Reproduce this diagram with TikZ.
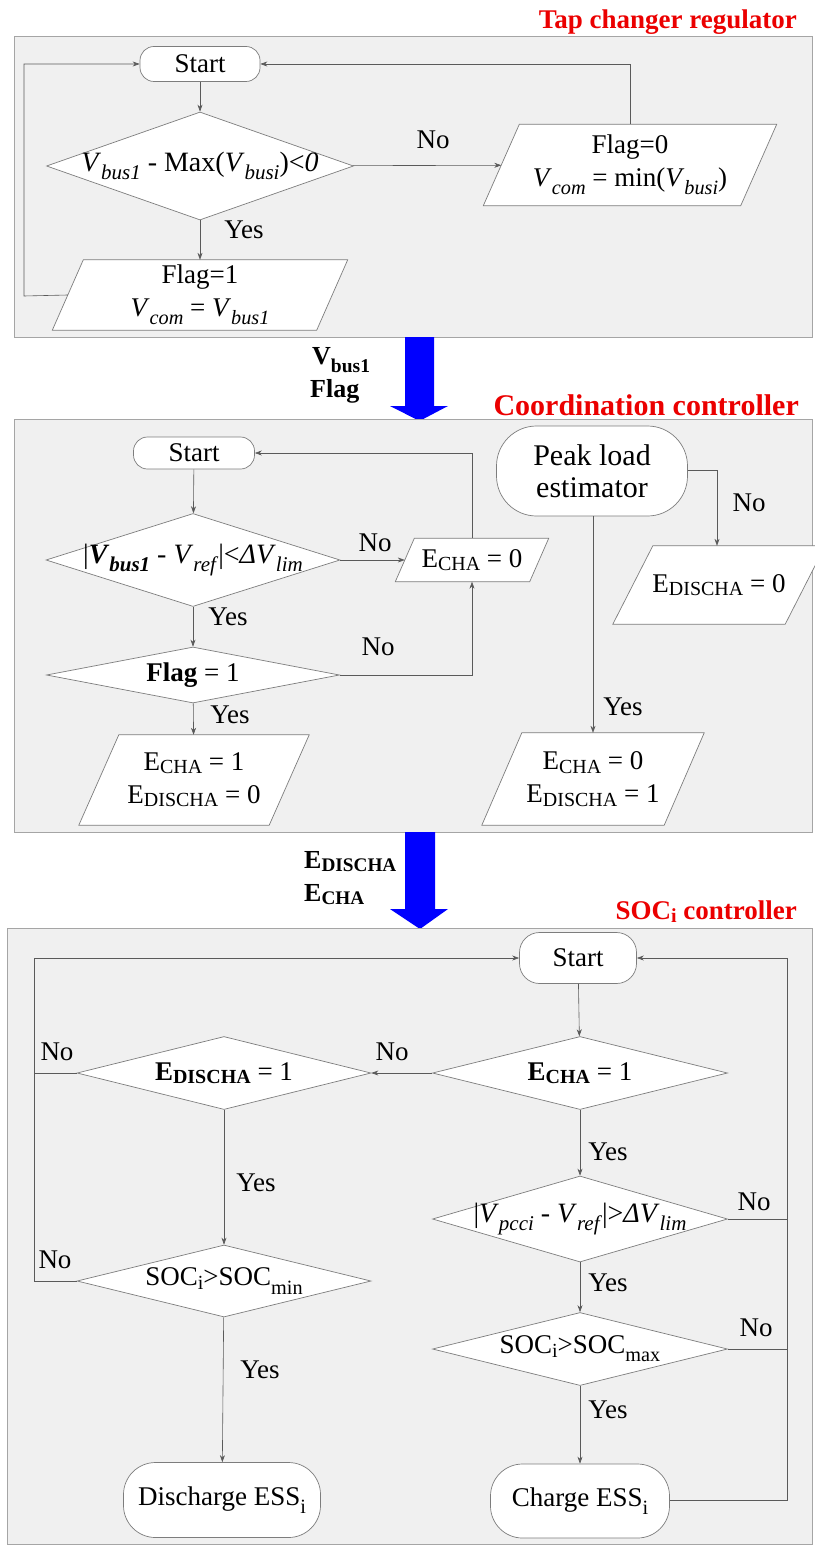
\documentclass[tikz,border=0pt]{standalone}
\usepackage{fontspec}
\setmainfont{Liberation Serif}
\usetikzlibrary{shapes.geometric,arrows.meta,calc}
\definecolor{panelfill}{RGB}{240,240,240}
\definecolor{panelline}{RGB}{165,165,165}
\definecolor{ln}{RGB}{90,90,90}
\definecolor{shapeline}{RGB}{125,125,125}
\definecolor{ttl}{RGB}{235,0,0}
\definecolor{bigblue}{RGB}{0,0,255}
\newcommand\sbs[1]{\raisebox{-0.3em}{\scalebox{0.75}{#1}}}
\newcommand\csb[1]{\raisebox{-0.12em}{\scalebox{0.74}{#1}}}
\tikzset{
  panel/.style={fill=panelfill, draw=panelline, line width=1pt},
  box/.style={draw=shapeline, fill=white, line width=0.7pt},
  txt/.style={font=\fontsize{27}{33}\selectfont, inner sep=0pt, align=center},
  ftxt/.style={font=\fontsize{28}{33}\selectfont, inner sep=0pt, align=center},
  term/.style={box, txt, rounded corners=14pt},
  dia/.style={box, diamond, inner sep=0pt},
  conn/.style={draw=ln, line width=0.6pt},
  arr/.style={conn, -{Stealth[length=7pt,width=5pt]}},
  ttlstyle/.style={font=\fontsize{27}{30}\selectfont\bfseries, text=ttl, inner sep=0pt, anchor=east},
  lbl/.style={font=\fontsize{27}{30}\selectfont, inner sep=0pt},
  blbl/.style={font=\fontsize{26}{30}\selectfont\bfseries, inner sep=0pt, anchor=west},
}
% name, center, inner width, height, slant, text
\newcommand\pgram[6]{%
  \node[inner sep=0pt, minimum width=#3, minimum height=#4] (#1) at (#2) {};
  \path[box] ([xshift=-#5*0.5pt]#1.south west) -- ([xshift=#5*0.5pt]#1.north west)
     -- ([xshift=#5*0.5pt]#1.north east) -- ([xshift=-#5*0.5pt]#1.south east) -- cycle;
  \node[txt] at (#1) {#6};
}
% name, center, width, height, text style, text
\newcommand\decision[6]{%
  \node[dia, minimum width=#3, minimum height=#4] (#1) at (#2) {};
  \node[#5] at (#1) {#6};
}
\begin{document}
\begin{tikzpicture}[x=1pt,y=-1pt]
\useasboundingbox (0,0) rectangle (814,1546);

% ---------------- Panel 1 ----------------
\node[ttlstyle] (t1) at (797,22) {Tap changer regulator};
\path[panel] (14,37) rectangle (812,337);
\node[term, minimum width=120, minimum height=35] (s1) at (200,64) {Start};
\decision{d1}{200,166}{307}{108}{ftxt}{\textit{V}\sbs{\textit{bus1}} - Max(\textit{V}\sbs{\textit{busi}})<\textit{0}}
\pgram{p0}{630,165}{257}{81}{36}{Flag=0\\\textit{V}\sbs{\textit{com}} = min(\textit{V}\sbs{\textit{busi}})}
\pgram{p1}{200,295}{264}{70}{31}{Flag=1\\\textit{V}\sbs{\textit{com}} = \textit{V}\sbs{\textit{bus1}}}
\draw[arr] (s1) -- (d1);
\draw[arr] (d1) -- (p0);
\draw[arr] (p0.north) |- (s1.east);
\draw[arr] (d1) -- (p1);
\coordinate (c1) at (24,296);
\draw[arr] (p1.west) -- (c1) |- (s1.west);
\node[lbl] at (433,140) {No};
\node[lbl] at (244,230) {Yes};

% blue arrow 1
\fill[bigblue] (405,337) -- (434,337) -- (434,406) -- (448,406) -- (419.5,421) -- (390,406) -- (405,406) -- cycle;
\node[blbl] at (312,360) {V\sbs{bus1}};
\node[blbl] at (310,391) {Flag};

% ---------------- Panel 2 ----------------
\node[ttlstyle, font=\fontsize{30}{32}\selectfont\bfseries] (t2) at (799,405) {Coordination controller};
\path[panel] (14,419) rectangle (812,832);
\node[term, minimum width=121, minimum height=32] (s2) at (194,453) {Start};
\decision{d2}{193,560}{294}{93}{ftxt}{|\textbf{\textit{V}}\sbs{\textbf{\textit{bus1}}} - \textit{V}\sbs{\textit{ref}}|<\textit{ΔV}\sbs{\textit{lim}}}
\pgram{pa}{472,560}{134}{43}{19}{E\csb{CHA} = 0}
\decision{d3}{193,675}{293}{56}{txt}{\textbf{Flag} = 1}
\pgram{pb}{194,780}{190}{90}{40}{E\csb{CHA} = 1\\E\csb{DISCHA} = 0}
\node[term, font=\fontsize{30}{32}\selectfont, rounded corners=40pt, minimum width=191, minimum height=90] (pk) at (592,471) {Peak load\\estimator};
\pgram{pc}{593,779}{182}{92}{40}{E\csb{CHA} = 0\\E\csb{DISCHA} = 1}
\pgram{pd}{719,585}{172}{78}{40}{E\csb{DISCHA} = 0}
\draw[arr] (s2) -- (d2);
\draw[arr] (d2) -- (pa);
\draw[arr] (pa.north) |- (s2.east);
\draw[arr] (d2) -- (d3);
\draw[arr] (d3.east) -| (pa.south);
\draw[arr] (d3) -- (pb);
\draw[arr] (pk.south -| pc.north) -- (pc.north);
\coordinate (c2) at (717,470);
\draw[arr] (pk.east |- c2) -- (c2) -- (c2 |- pd.north);
\node[lbl] at (375,543) {No};
\node[lbl] at (228,617) {Yes};
\node[lbl] at (378,647) {No};
\node[lbl] at (230,715) {Yes};
\node[lbl] at (623,707) {Yes};
\node[lbl] at (749,503) {No};

% blue arrow 2
\fill[bigblue] (405,832) -- (435,832) -- (435,909) -- (448,909) -- (420,929) -- (390,909) -- (405,909) -- cycle;
\node[blbl] at (304,862) {E\csb{DISCHA}};
\node[blbl] at (304,895) {E\csb{CHA}};

% ---------------- Panel 3 ----------------
\node[ttlstyle] (t3) at (797,912) {SOC\csb{i} controller};
\path[panel] (7,928) rectangle (812,1544);
\node[term, rounded corners=20pt, minimum width=117, minimum height=51] (s3) at (578,958) {Start};
\decision{d4}{580,1073}{295}{73}{txt}{\textbf{E\csb{CHA}} = 1}
\decision{d5}{224,1073}{294}{73}{txt}{\textbf{E\csb{DISCHA}} = 1}
\decision{d6}{580,1219}{295}{86}{ftxt}{|\textit{V}\sbs{\textit{pcci}} - \textit{V}\sbs{\textit{ref}}|>\textit{ΔV}\sbs{\textit{lim}}}
\decision{d7}{224,1281}{294}{72}{txt}{SOC\csb{i}>SOC\sbs{min}}
\decision{d8}{580,1349}{295}{73}{txt}{SOC\csb{i}>SOC\sbs{max}}
\node[term, rounded corners=32pt, minimum width=197, minimum height=75] (dis) at (222,1500) {Discharge ESS\sbs{i}};
\node[term, rounded corners=32pt, minimum width=179, minimum height=74] (chg) at (580,1501) {Charge ESS\sbs{i}};
\coordinate (l3) at (34,1281);
\coordinate (r3) at (787,1500);
\draw[arr] (s3) -- (d4);
\draw[arr] (d4) -- (d5);
\draw[conn] (d5.west) -- (d5.west -| l3);
\draw[arr] (d7.west) -- (l3) |- (s3.west);
\draw[arr] (d5) -- (d7);
\draw[arr] (d7) -- (dis);
\draw[arr] (d4) -- (d6);
\draw[conn] (d6.east) -- (d6.east -| r3);
\draw[conn] (d8.east) -- (d8.east -| r3);
\draw[arr] (d6) -- (d8);
\draw[arr] (d8) -- (chg);
\draw[arr] (chg.east |- r3) -- (r3) |- (s3.east);
\node[lbl] at (392,1052) {No};
\node[lbl] at (57,1052) {No};
\node[lbl] at (55,1260) {No};
\node[lbl] at (256,1183) {Yes};
\node[lbl] at (260,1370) {Yes};
\node[lbl] at (608,1152) {Yes};
\node[lbl] at (754,1202) {No};
\node[lbl] at (608,1283) {Yes};
\node[lbl] at (756,1328) {No};
\node[lbl] at (608,1410) {Yes};
\end{tikzpicture}
\end{document}
